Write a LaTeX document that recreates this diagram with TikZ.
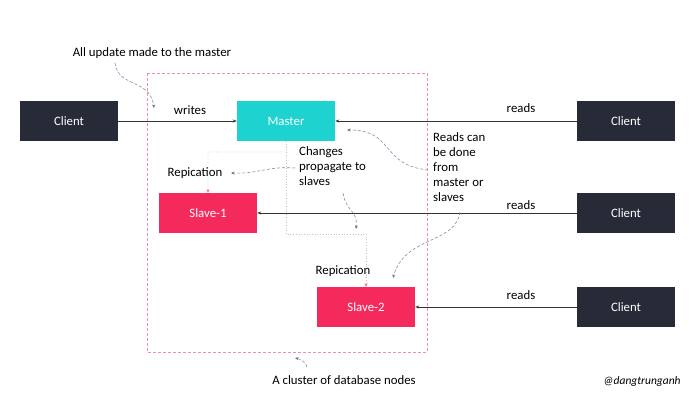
\documentclass[tikz,border=0pt]{standalone}
\usepackage{fontspec}
\setmainfont{Carlito}
\usepackage{tikz}
\usetikzlibrary{arrows.meta}
\definecolor{clientdark}{HTML}{262B37}
\definecolor{mastercyan}{HTML}{1ED3CF}
\definecolor{slavered}{HTML}{F52A5C}
\definecolor{clusterpink}{HTML}{F08CB4}
\definecolor{notecol}{HTML}{6C6C96}
\definecolor{replgray}{HTML}{C4C4C4}
\tikzset{
 conn/.style={draw=black!80, line width=0.7pt, -{Stealth[length=4pt,width=3pt]}},
 repl/.style={draw=replgray, dotted, line width=0.7pt, -{Stealth[length=3.5pt,width=3pt,color=slavered!70]}},
 note/.style={draw=notecol!80, dashed, dash pattern=on 3pt off 2pt, line width=0.6pt, -{Stealth[length=3.5pt,width=3pt,color=notecol]}},
 txt/.style={inner sep=0, align=left}
}
\begin{document}
\begin{tikzpicture}[x=1pt,y=-1pt, font=\fontsize{12.8}{15.2}\selectfont]
 \useasboundingbox (0,0) rectangle (698,409);
 \draw[clusterpink, dashed, dash pattern=on 3pt off 2pt, line width=0.6pt] (147,73) rectangle (427,352);
 \begin{scope}[every node/.style={minimum width=98pt, minimum height=40pt, inner sep=0, text=white, font=\fontsize{12.8}{15}\selectfont}]
  \node[fill=clientdark] (cl) at (69,121) {Client};
  \node[fill=mastercyan] (master) at (286,121) {Master};
  \node[fill=slavered] (s1) at (208,213) {Slave-1};
  \node[fill=slavered] (s2) at (366,307) {Slave-2};
  \node[fill=clientdark] (cr1) at (626,121) {Client};
  \node[fill=clientdark] (cr2) at (626,213) {Client};
  \node[fill=clientdark] (cr3) at (626,307) {Client};
 \end{scope}
 \draw[conn] (cl) -- (master);
 \node[txt] (wr) at (190,110) {writes};
 \draw[conn] (cr1) -- (master);
 \draw[conn] (cr2) -- (s1);
 \draw[conn] (cr3) -- (s2);
 \node[txt] (rd1) at (521,108) {reads};
 \node[txt] (rd2) at (521,205) {reads};
 \node[txt] (rd3) at (521,295) {reads};
 \coordinate (j1) at (287,152);
 \coordinate (j2) at (366,234);
 \draw[repl] (master.south) -- (j1) -| (s1.north);
 \draw[repl] (master.south) |- (j2) -- (s2.north);
 \node[txt] (rep1) at (195,173) {Repication};
 \node[txt] (rep2) at (343,271) {Repication};
 \node[txt, anchor=north west] (chg) at (299,146) {Changes\\propagate to\\slaves};
 \node[txt, anchor=north west] (rdn) at (433,132) {Reads can\\be done\\from\\master or\\slaves};
 \node[txt] (upd) at (152,53) {All update made to the master};
 \node[txt] (clus) at (344,380) {A cluster of database nodes};
 \node[txt, font=\fontsize{11.5}{13}\selectfont\itshape] (tag) at (642,381) {@dangtrunganh};
 \coordinate (a1) at (154,108);
 \coordinate (a2) at (356,229);
 \coordinate (a3) at (347,130);
 \coordinate (a4) at (393,278);
 \coordinate (a5) at (295,358);
 \coordinate (a6) at (231,173);
 \draw[note] (115,63) .. controls (118,88) and (150,78) .. (a1);
 \draw[note] (295,168) .. controls (268,166) and (258,174) .. (a6);
 \draw[note] (343,193) .. controls (346,212) and (358,210) .. (a2);
 \draw[note] (428,170) .. controls (380,165) and (395,130) .. (a3);
 \draw[note] (460,212) .. controls (455,245) and (405,235) .. (a4);
 \draw[note] (307,367) .. controls (306,362) and (300,359) .. (a5);
\end{tikzpicture}
\end{document}
